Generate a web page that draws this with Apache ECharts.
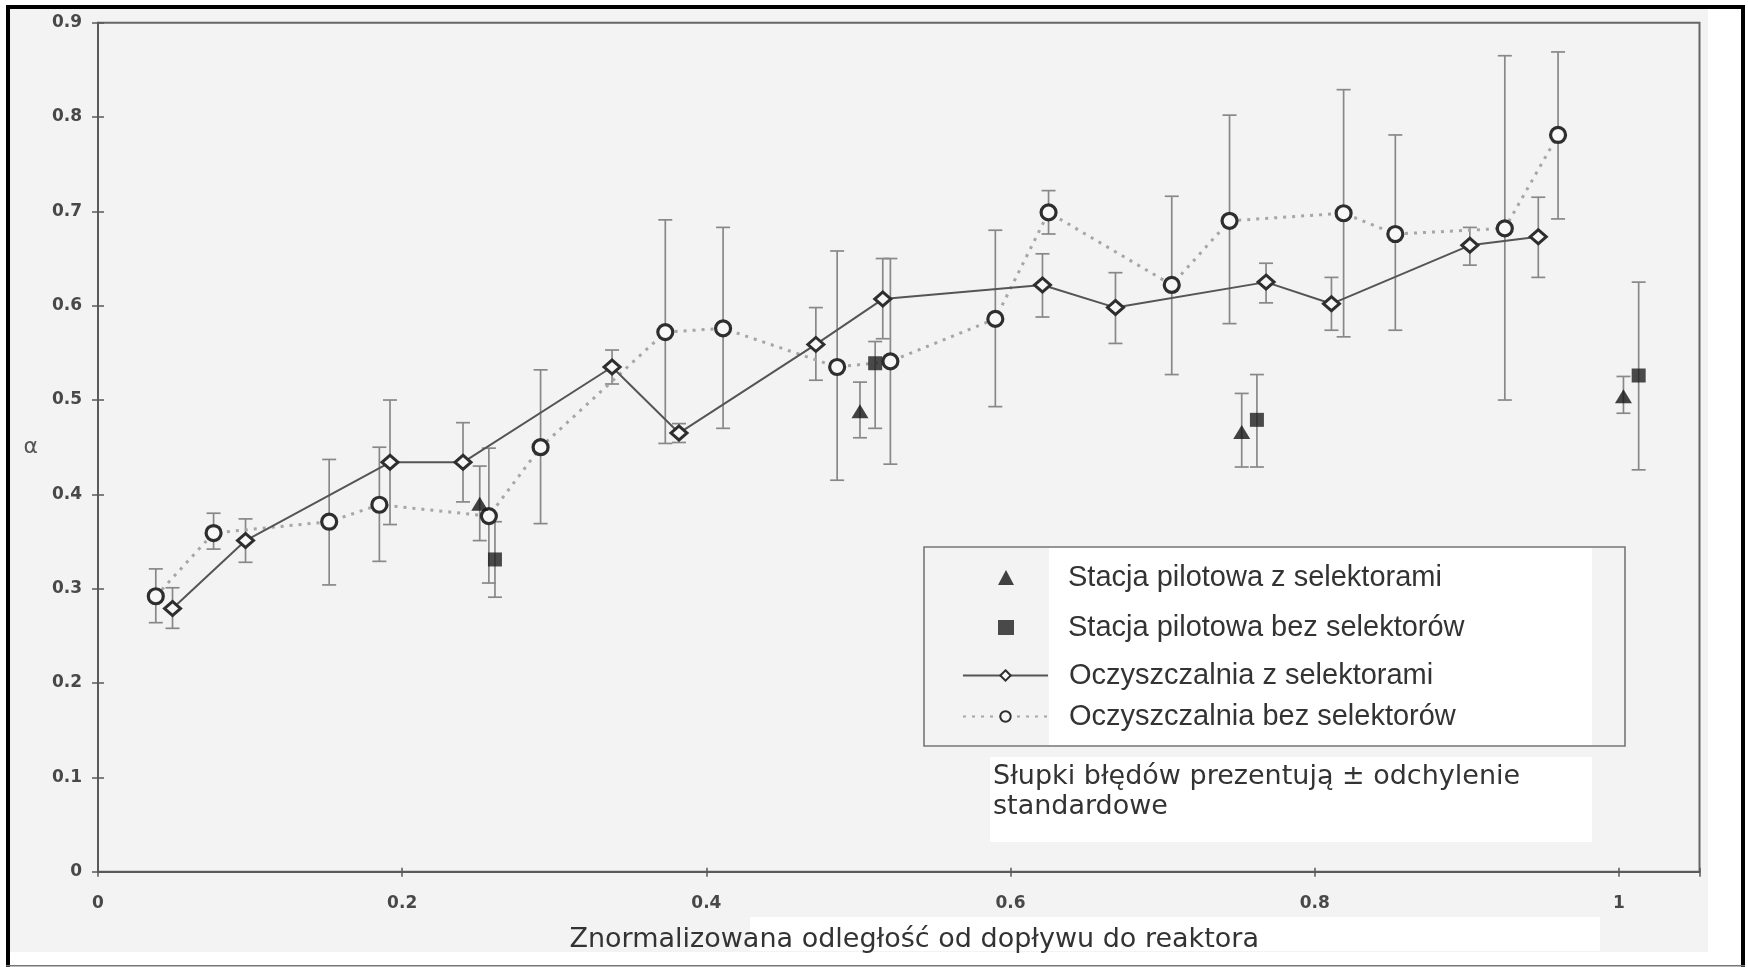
<!DOCTYPE html>
<html lang="pl">
<head>
<meta charset="utf-8">
<title>Współczynnik α wzdłuż reaktora</title>
<script src="https://cdn.jsdelivr.net/npm/echarts@6.0.0/dist/echarts.min.js"></script>
<style>
  html, body { margin: 0; padding: 0; background: #ffffff; }
  #chart { width: 1748px; height: 967px; }
</style>
</head>
<body>
<div id="chart"></div>
<script>
// Series names (legend text)
const nameTri = 'Stacja pilotowa z selektorami';
const nameSq = 'Stacja pilotowa bez selektorów';
const nameSolid = 'Oczyszczalnia z selektorami';
const nameDot = 'Oczyszczalnia bez selektorów';

// Axis tick labels
const xTicks = [0, 0.2, 0.4, 0.6, 0.8, 1];
const yTicks = [0, 0.1, 0.2, 0.3, 0.4, 0.5, 0.6, 0.7, 0.8, 0.9];

// Pilot station with selectors: position, mean, mean - SD, mean + SD
const pilotZX  = [0.251, 0.501, 0.752, 1.003];
const pilotZY  = [0.390, 0.488, 0.466, 0.504];
const pilotZLo = [0.351, 0.460, 0.429, 0.486];
const pilotZHi = [0.430, 0.519, 0.507, 0.525];

// Pilot station without selectors
const pilotBX  = [0.261, 0.511, 0.762, 1.013];
const pilotBY  = [0.331, 0.539, 0.479, 0.526];
const pilotBLo = [0.291, 0.470, 0.429, 0.426];
const pilotBHi = [0.371, 0.562, 0.527, 0.625];

// Full-scale plant with selectors
const plantZX  = [0.049, 0.097, 0.192, 0.240, 0.338, 0.382, 0.472, 0.516, 0.621, 0.669, 0.768, 0.811, 0.902, 0.947];
const plantZY  = [0.279, 0.351, 0.434, 0.434, 0.535, 0.465, 0.559, 0.607, 0.622, 0.598, 0.625, 0.602, 0.664, 0.673];
const plantZLo = [0.258, 0.328, 0.368, 0.392, 0.517, 0.455, 0.521, 0.565, 0.588, 0.560, 0.603, 0.574, 0.643, 0.630];
const plantZHi = [0.301, 0.374, 0.500, 0.476, 0.553, 0.475, 0.598, 0.650, 0.655, 0.635, 0.645, 0.630, 0.683, 0.715];

// Full-scale plant without selectors
const plantBX  = [0.038, 0.076, 0.152, 0.185, 0.257, 0.291, 0.373, 0.411, 0.486, 0.521, 0.590, 0.625, 0.706, 0.744, 0.819, 0.853, 0.925, 0.960];
const plantBY  = [0.292, 0.359, 0.371, 0.389, 0.377, 0.450, 0.572, 0.576, 0.535, 0.541, 0.586, 0.699, 0.622, 0.690, 0.698, 0.676, 0.682, 0.781];
const plantBLo = [0.264, 0.342, 0.304, 0.329, 0.306, 0.369, 0.454, 0.470, 0.415, 0.432, 0.493, 0.676, 0.527, 0.581, 0.567, 0.574, 0.500, 0.692];
const plantBHi = [0.321, 0.380, 0.437, 0.450, 0.449, 0.532, 0.691, 0.683, 0.658, 0.650, 0.680, 0.722, 0.716, 0.802, 0.829, 0.781, 0.865, 0.869];

const zip = (xs, ys) => xs.map((x, i) => [x, ys[i]]);
const isTick = (v, list) => list.some(t => Math.abs(t - v) < 1e-6);

// Vertical ± SD bars with caps, positioned through the axes
function errorBars(xs, lo, hi, color, width) {
  return {
    type: 'custom',
    silent: true,
    z: 1,
    data: xs.map((x, i) => [x, lo[i], hi[i]]),
    encode: { x: 0, y: [1, 2] },
    renderItem: (params, api) => {
      const x = api.value(0);
      const top = api.coord([x, api.value(2)]);
      const bot = api.coord([x, api.value(1)]);
      const h = 7;
      const style = { stroke: color, lineWidth: width };
      return {
        type: 'group',
        children: [
          { type: 'line', shape: { x1: top[0], y1: top[1], x2: bot[0], y2: bot[1] }, style },
          { type: 'line', shape: { x1: top[0] - h, y1: top[1], x2: top[0] + h, y2: top[1] }, style },
          { type: 'line', shape: { x1: bot[0] - h, y1: bot[1], x2: bot[0] + h, y2: bot[1] }, style }
        ]
      };
    }
  };
}

const axisColor = '#5a5a5a';
const tickFont = { fontFamily: 'DejaVu Sans', fontWeight: 'bold', fontSize: 17, color: '#484848' };

// One legend component per row so each row sits at its own height;
// marker-only rows use a narrow icon centred over the line samples
function legendRow(name, icon, cy) {
  const narrow = !!icon;
  const iconW = narrow ? 16 : 85;
  const left = narrow ? 998 : 962;
  const pad = 1068 - (left + iconW + 5);
  return {
    data: [icon ? { name, icon } : { name }],
    left,
    top: cy - 17,
    orient: 'vertical',
    padding: 0,
    itemWidth: iconW,
    itemHeight: narrow ? 15 : 13,
    selectedMode: false,
    formatter: '{t|{name}}',
    textStyle: {
      rich: { t: { fontFamily: 'Liberation Sans', fontSize: 29, color: '#333333', padding: [0, 0, 0, pad], lineHeight: 34 } }
    }
  };
}

const chart = echarts.init(document.getElementById('chart'), null, { renderer: 'canvas' });

chart.setOption({
  backgroundColor: '#ffffff',
  animation: false,
  graphic: [
    // paper and scan patches
    { type: 'rect', z: -10, silent: true, shape: { x: 8, y: 8, width: 1734, height: 957 }, style: { fill: '#f3f3f3' } },
    { type: 'rect', z: -9, silent: true, shape: { x: 1708, y: 8, width: 34, height: 957 }, style: { fill: '#ffffff' } },
    { type: 'rect', z: -9, silent: true, shape: { x: 8, y: 952, width: 1734, height: 13 }, style: { fill: '#ffffff' } },
    { type: 'rect', z: -9, silent: true, shape: { x: 1049, y: 548, width: 543, height: 197 }, style: { fill: '#ffffff' } },
    { type: 'rect', z: -9, silent: true, shape: { x: 990, y: 757, width: 602, height: 85 }, style: { fill: '#ffffff' } },
    { type: 'rect', z: -9, silent: true, shape: { x: 750, y: 917, width: 850, height: 34 }, style: { fill: '#ffffff' } },
    // legend box
    { type: 'rect', z: 3, silent: true, shape: { x: 924, y: 547, width: 701, height: 199 }, style: { fill: 'none', stroke: '#777777', lineWidth: 1.6 } },
    // note under the legend
    {
      type: 'text', z: 5, left: 993, top: 762, silent: true,
      style: {
        text: 'Słupki błędów prezentują ± odchylenie\nstandardowe',
        fontFamily: 'DejaVu Sans', fontSize: 27, lineHeight: 30, fill: '#333333'
      }
    },
    // outer frame
    { type: 'rect', z: 20, silent: true, shape: { x: 6, y: 5, width: 4, height: 962 }, style: { fill: '#000000' } },
    { type: 'rect', z: 20, silent: true, shape: { x: 6, y: 5, width: 1739, height: 4 }, style: { fill: '#000000' } },
    { type: 'rect', z: 20, silent: true, shape: { x: 1741, y: 5, width: 4, height: 962 }, style: { fill: '#000000' } },
    { type: 'rect', z: 20, silent: true, shape: { x: 6, y: 965, width: 1739, height: 1.5 }, style: { fill: '#777777' } }
  ],
  grid: {
    left: 98, top: 22.7, right: 48.5, bottom: 95.3,
    show: true, borderColor: '#666666', borderWidth: 2, backgroundColor: 'transparent',
    outerBoundsMode: 'none'
  },
  xAxis: [
    {
      type: 'value', min: 0, max: 1.053, interval: 0.2,
      axisLine: { show: true, lineStyle: { color: axisColor, width: 2 } },
      axisTick: { show: true, inside: false, length: 5, lineStyle: { color: axisColor, width: 1.5 } },
      splitLine: { show: false },
      axisLabel: {
        ...tickFont, margin: 23,
        formatter: v => (isTick(v, xTicks) ? String(Math.round(v * 10) / 10) : '')
      },
      name: 'Znormalizowana odległość od dopływu do reaktora',
      nameLocation: 'middle', nameGap: 55,
      nameTextStyle: { fontFamily: 'DejaVu Sans', fontSize: 27, color: '#333333', padding: [0, 0, 0, 31] }
    },
    {
      type: 'value', min: 0, max: 1.053, interval: 0.2, position: 'bottom',
      axisLine: { show: false },
      axisTick: { show: true, inside: true, length: 4, lineStyle: { color: axisColor, width: 1.5 } },
      splitLine: { show: false }, axisLabel: { show: false }
    }
  ],
  yAxis: [
    {
      type: 'value', min: 0, max: 0.9, interval: 0.1,
      axisLine: { show: true, lineStyle: { color: axisColor, width: 2 } },
      axisTick: { show: true, inside: false, length: 6, lineStyle: { color: axisColor, width: 1.5 } },
      splitLine: { show: false },
      axisLabel: {
        ...tickFont, margin: 16,
        formatter: v => (isTick(v, yTicks) ? String(Math.round(v * 10) / 10) : '')
      },
      name: 'α', nameLocation: 'middle', nameRotate: 0, nameGap: 60,
      nameTextStyle: { fontFamily: 'DejaVu Sans', fontSize: 22, color: '#555555' }
    },
    {
      type: 'value', min: 0, max: 0.9, interval: 0.1, position: 'left',
      axisLine: { show: false },
      axisTick: { show: true, inside: true, length: 6, lineStyle: { color: axisColor, width: 1.5 } },
      splitLine: { show: false }, axisLabel: { show: false }
    }
  ],
  legend: [
    legendRow(nameTri, 'triangle', 580),
    legendRow(nameSq, 'rect', 630),
    legendRow(nameSolid, null, 678),
    legendRow(nameDot, null, 719)
  ],
  series: [
    errorBars(plantBX, plantBLo, plantBHi, '#888888', 1.7),
    errorBars(plantZX, plantZLo, plantZHi, '#888888', 1.7),
    errorBars(pilotZX, pilotZLo, pilotZHi, '#888888', 1.7),
    errorBars(pilotBX, pilotBLo, pilotBHi, '#888888', 1.7),
    {
      name: nameDot, type: 'line', z: 3,
      data: zip(plantBX, plantBY),
      symbol: 'circle', symbolSize: 15,
      lineStyle: { color: '#a6a6a6', width: 3, type: [3, 6] },
      itemStyle: { color: '#f7f7f7', borderColor: '#2e2e2e', borderWidth: 3.2 }
    },
    {
      name: nameSolid, type: 'line', z: 4,
      data: zip(plantZX, plantZY),
      symbol: 'diamond', symbolSize: [16, 14],
      lineStyle: { color: '#555555', width: 2 },
      itemStyle: { color: '#f7f7f7', borderColor: '#2e2e2e', borderWidth: 3 }
    },
    {
      name: nameTri, type: 'scatter', z: 5,
      data: zip(pilotZX, pilotZY),
      symbol: 'triangle', symbolSize: [17, 14],
      itemStyle: { color: '#141414' }
    },
    {
      name: nameSq, type: 'scatter', z: 5,
      data: zip(pilotBX, pilotBY),
      symbol: 'rect', symbolSize: 14,
      itemStyle: { color: '#1e1e1e' }
    }
  ]
});
</script>
</body>
</html>
